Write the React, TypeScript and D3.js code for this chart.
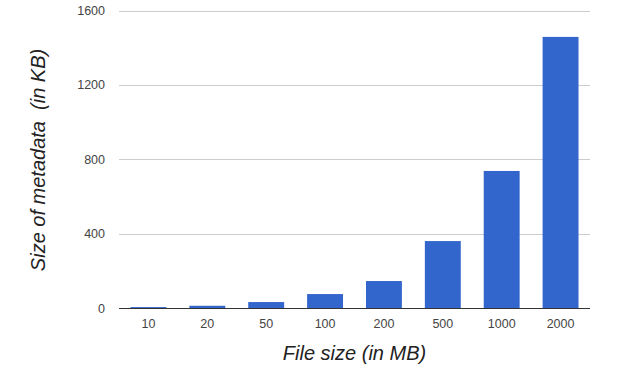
import React, { useEffect, useRef } from 'react';
import * as d3 from 'd3';

const fileSizes = ['10', '20', '50', '100', '200', '500', '1000', '2000'];
const metadataKb = [5, 12, 32, 75, 145, 360, 737, 1458];
const yTicks = [0, 400, 800, 1200, 1600];

const App = () => {
  const svgRef = useRef<SVGSVGElement>(null);

  useEffect(() => {
    const width = 636;
    const height = 378;
    const margin = { top: 10.5, right: 46, bottom: 70, left: 119 };

    const svg = d3.select(svgRef.current)
      .attr('width', width)
      .attr('height', height);
    svg.selectAll('*').remove();

    const x = d3.scaleBand()
      .domain(fileSizes)
      .range([margin.left, width - margin.right])
      .paddingInner(0.39)
      .paddingOuter(0.195);

    const y = d3.scaleLinear()
      .domain([0, 1600])
      .range([308, margin.top]);

    // gridlines
    svg.append('g')
      .selectAll('line')
      .data(yTicks.filter(t => t > 0))
      .join('line')
      .attr('x1', margin.left)
      .attr('x2', width - margin.right)
      .attr('y1', d => Math.round(y(d)) + 0.5)
      .attr('y2', d => Math.round(y(d)) + 0.5)
      .attr('stroke', '#cccccc');

    svg.append('g')
      .selectAll('text')
      .data(yTicks)
      .join('text')
      .attr('x', 105)
      .attr('y', d => y(d) + 4.5)
      .attr('text-anchor', 'end')
      .attr('font-family', 'Liberation Sans, Arial, sans-serif')
      .attr('font-size', 12.5)
      .attr('fill', '#444444')
      .text(d => d);

    const data = fileSizes.map((s, i) => ({ size: s, kb: metadataKb[i] }));

    svg.append('g')
      .selectAll('rect')
      .data(data)
      .join('rect')
      .attr('x', d => x(d.size)!)
      .attr('width', x.bandwidth())
      .attr('y', d => y(d.kb))
      .attr('height', d => y(0) - y(d.kb))
      .attr('fill', '#3366cc');

    // baseline
    svg.append('line')
      .attr('x1', margin.left)
      .attr('x2', width - margin.right)
      .attr('y1', 308.5)
      .attr('y2', 308.5)
      .attr('stroke', '#333333');

    svg.append('g')
      .selectAll('text')
      .data(fileSizes)
      .join('text')
      .attr('x', d => x(d)! + x.bandwidth() / 2)
      .attr('y', 328)
      .attr('text-anchor', 'middle')
      .attr('font-family', 'Liberation Sans, Arial, sans-serif')
      .attr('font-size', 12.5)
      .attr('fill', '#444444')
      .text(d => d);

    svg.append('text')
      .attr('x', 354.5)
      .attr('y', 360)
      .attr('text-anchor', 'middle')
      .attr('font-family', 'Liberation Sans, Arial, sans-serif')
      .attr('font-style', 'italic')
      .attr('font-size', 20)
      .attr('fill', '#222222')
      .text('File size (in MB)');

    svg.append('text')
      .attr('transform', 'translate(45,160) rotate(-90)')
      .attr('text-anchor', 'middle')
      .attr('font-family', 'Liberation Sans, Arial, sans-serif')
      .attr('font-style', 'italic')
      .attr('font-size', 20)
      .attr('fill', '#222222')
      .style('white-space', 'pre')
      .text('Size of metadata  (in KB)');
  }, []);

  return (
    <div style={{ position: 'absolute', left: 0, top: 0 }}>
      <svg ref={svgRef}></svg>
    </div>
  );
};

export default App;
